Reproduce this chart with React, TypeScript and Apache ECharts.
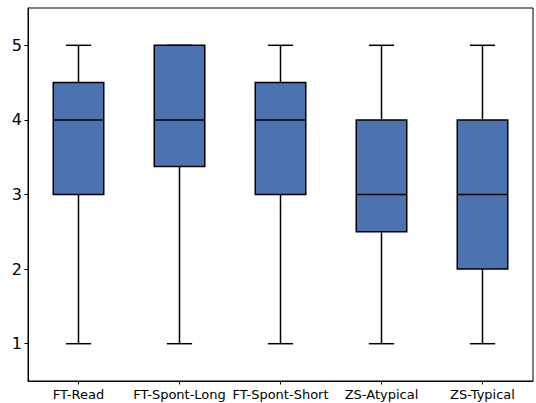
import React, { useEffect, useRef } from "react";
import * as echarts from "echarts";

const categories = ["FT-Read", "FT-Spont-Long", "FT-Spont-Short", "ZS-Atypical", "ZS-Typical"];
const mins = [1, 1, 1, 1, 1];
const q1s = [3, 3.375, 3, 2.5, 2];
const medians = [4, 4, 4, 3, 3];
const q3s = [4.5, 5, 4.5, 4, 4];
const maxs = [5, 5, 5, 5, 5];
const yTicks = [1, 2, 3, 4, 5];

export default function App() {
  const ref = useRef<HTMLDivElement>(null);
  useEffect(() => {
    if (!ref.current) return;
    const chart = echarts.init(ref.current, null, { renderer: "svg" });
    const data = categories.map((_, i) => [i, mins[i], q1s[i], medians[i], q3s[i], maxs[i]]);
    const stroke = "#000";
    const lw = 1.5;
    chart.setOption({
      animation: false,
      grid: {
        left: 28,
        right: 3,
        top: 8,
        bottom: 22,
        show: true,
        borderColor: "#000",
        borderWidth: 1,
        backgroundColor: "#fff",
      },
      xAxis: {
        type: "category",
        data: categories,
        boundaryGap: true,
        axisLine: { show: true, lineStyle: { color: "#000", width: 1 } },
        axisTick: { show: true, alignWithLabel: true, length: 3.5, lineStyle: { color: "#000" } },
        axisLabel: { color: "#000", fontFamily: "DejaVu Sans", fontSize: 13, margin: 7, interval: 0 },
        splitLine: { show: false },
      },
      yAxis: {
        type: "value",
        min: 0.5,
        max: 5.5,
        axisLine: { show: true, lineStyle: { color: "#000", width: 1 } },
        axisTick: { show: true, length: 3.5, customValues: yTicks, lineStyle: { color: "#000" } },
        axisLabel: { color: "#000", fontFamily: "DejaVu Sans", fontSize: 16, margin: 6, customValues: yTicks },
        splitLine: { show: false },
      },
      series: [
        {
          type: "custom",
          data,
          encode: { x: 0, y: [1, 2, 3, 4, 5] },
          renderItem: (params: any, api: any) => {
            const idx = api.value(0);
            const vmin = api.value(1);
            const vq1 = api.value(2);
            const vmed = api.value(3);
            const vq3 = api.value(4);
            const vmax = api.value(5);
            const band = api.size([1, 0])[0];
            const half = band * 0.25;
            const cap = band * 0.125;
            const pMin = api.coord([idx, vmin]);
            const pQ1 = api.coord([idx, vq1]);
            const pMed = api.coord([idx, vmed]);
            const pQ3 = api.coord([idx, vq3]);
            const pMax = api.coord([idx, vmax]);
            const cx = pMin[0];
            const ls = { stroke, lineWidth: lw };
            return {
              type: "group",
              children: [
                { type: "line", shape: { x1: cx, y1: pQ1[1], x2: cx, y2: pMin[1] }, style: ls },
                { type: "line", shape: { x1: cx, y1: pQ3[1], x2: cx, y2: pMax[1] }, style: ls },
                { type: "line", shape: { x1: cx - cap, y1: pMin[1], x2: cx + cap, y2: pMin[1] }, style: ls },
                { type: "line", shape: { x1: cx - cap, y1: pMax[1], x2: cx + cap, y2: pMax[1] }, style: ls },
                {
                  type: "rect",
                  shape: { x: cx - half, y: pQ3[1], width: half * 2, height: pQ1[1] - pQ3[1] },
                  style: { fill: "#4c72b0", stroke, lineWidth: lw },
                },
                { type: "line", shape: { x1: cx - half, y1: pMed[1], x2: cx + half, y2: pMed[1] }, style: ls },
              ],
            };
          },
        },
      ],
    });
    return () => chart.dispose();
  }, []);
  return (
    <div
      ref={ref}
      style={{ position: "fixed", left: 0, top: 0, width: 536, height: 403, background: "#fff" }}
    />
  );
}
